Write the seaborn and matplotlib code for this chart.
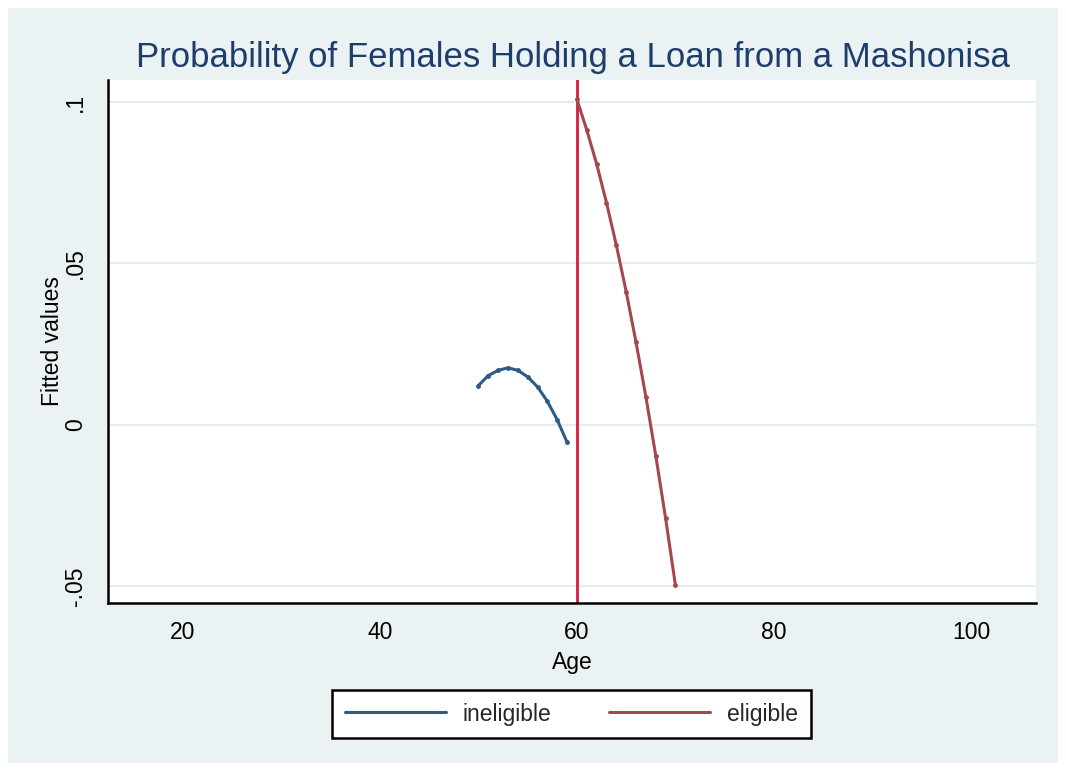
import matplotlib
matplotlib.use("Agg")
import matplotlib.pyplot as plt
from matplotlib.lines import Line2D
from matplotlib.patches import Rectangle
import numpy as np
import pandas as pd
import seaborn as sns

# Fitted values by age, each side of the eligibility cutoff
ages_ineligible = [50, 51, 52, 53, 54, 55, 56, 57, 58, 59]
fitted_ineligible = [0.0121, 0.0152, 0.0168, 0.0176, 0.0168, 0.0148, 0.0117, 0.0072, 0.0015, -0.0055]
ages_eligible = [60, 61, 62, 63, 64, 65, 66, 67, 68, 69, 70]
fitted_eligible = [0.1008, 0.0913, 0.0808, 0.0688, 0.0556, 0.0412, 0.0255, 0.0086, -0.0096, -0.0290, -0.0498]
cutoff_age = 60

x_ticks = [20, 40, 60, 80, 100]
y_ticks = [-0.05, 0, 0.05, 0.1]
y_tick_labels = ["-.05", "0", ".05", ".1"]
group_labels = ["ineligible", "eligible"]

df = pd.concat([
    pd.DataFrame({"Age": ages_ineligible, "Fitted values": fitted_ineligible, "group": group_labels[0]}),
    pd.DataFrame({"Age": ages_eligible, "Fitted values": fitted_eligible, "group": group_labels[1]}),
])

sns.set_theme(style="white")
plt.rcParams["font.family"] = ["Liberation Sans", "DejaVu Sans"]

bg = "#EAF2F3"
blue = "#2c5c84"
red = "#a5484d"
palette = {group_labels[0]: blue, group_labels[1]: red}

fig = plt.figure(figsize=(10.66, 7.71), dpi=100, facecolor="white")
fig.patches.append(Rectangle((8 / 1066, 8 / 771), 1 - 16 / 1066, 1 - 16 / 771,
                             transform=fig.transFigure, facecolor=bg, edgecolor="none", zorder=-10))

ax = fig.add_axes([108 / 1066, 1 - 603 / 771, (1036 - 108) / 1066, (603 - 80) / 771])
ax.set_facecolor("white")

ax.axvline(cutoff_age, color="#d41a40", lw=2, zorder=1)
sns.lineplot(data=df, x="Age", y="Fitted values", hue="group", palette=palette,
             marker="o", markersize=3.5, markeredgewidth=0, lw=2.2, ax=ax, legend=False, zorder=3)

ax.set_xlim(12.4, 106.6)
ax.set_ylim(-0.0553, 0.1068)
ax.set_xticks(x_ticks)
ax.set_xticklabels([str(t) for t in x_ticks], fontsize=16.5)
ax.set_yticks(y_ticks)
ax.set_yticklabels(y_tick_labels, fontsize=16.5, rotation=90, va="center")
ax.grid(axis="y", color="#E4EEEF", lw=1.5)
ax.grid(axis="x", visible=False)
for s in ["top", "right"]:
    ax.spines[s].set_visible(False)
for s in ["left", "bottom"]:
    ax.spines[s].set_color("black")
    ax.spines[s].set_linewidth(1.8)
ax.tick_params(axis="both", direction="out", length=8, width=1.8, color="black", pad=5, labelcolor="black")
ax.tick_params(axis="y", pad=7)
ax.set_xlabel("Age", fontsize=16.5, color="black", labelpad=5)
ax.set_ylabel("Fitted values", fontsize=16.5, color="black", labelpad=0)

fig.text(573 / 1066, 1 - 58 / 771, "Probability of Females Holding a Loan from a Mashonisa",
         fontsize=25, color="#1f3d6b", ha="center", va="center")

handles = [Line2D([0], [0], color=blue, lw=2.2), Line2D([0], [0], color=red, lw=2.2)]
leg = fig.legend(handles, group_labels, loc="center", bbox_to_anchor=(571.5 / 1066, 1 - 714 / 771),
                 ncol=2, fontsize=16.5, frameon=True, fancybox=False, handlelength=4.4,
                 handletextpad=0.75, columnspacing=2.5, borderpad=0.55, borderaxespad=0)
leg.get_frame().set_edgecolor("black")
leg.get_frame().set_linewidth(1.8)
leg.get_frame().set_facecolor("white")
leg.get_frame().set_alpha(1)

fig.savefig("out.png", dpi=100, facecolor="white")
